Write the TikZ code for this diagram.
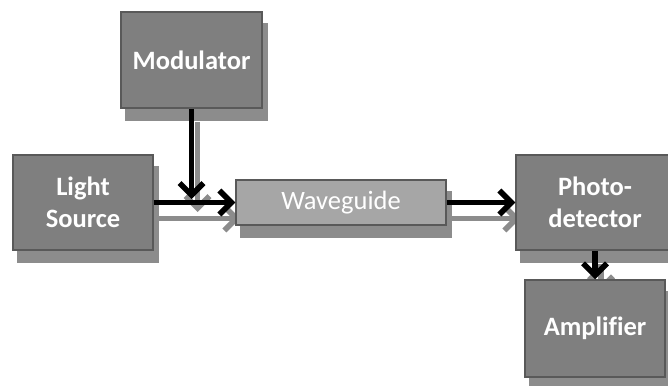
\documentclass[tikz,border=0pt]{standalone}
\usepackage{fontspec}
\setmainfont{Carlito}[Ligatures=NoCommon]
\usetikzlibrary{arrows.meta}
\pgfdeclarelayer{shadowlayer}
\pgfsetlayers{shadowlayer,main}
\definecolor{boxfill}{HTML}{7F7F7F}
\definecolor{boxline}{HTML}{595959}
\definecolor{wgfill}{HTML}{A6A6A6}
\definecolor{shadowc}{HTML}{8C8C8C}
\tikzset{
  blk/.style={draw=boxline, line width=1.5pt, fill=boxfill, text=white, font=\bfseries\fontsize{26.5}{32}\selectfont, align=center, inner sep=0pt},
  wgbox/.style={draw=boxline, line width=1.5pt, fill=wgfill, text=white, font=\fontsize{26.5}{32}\selectfont, inner sep=0pt},
  arr/.style={line width=5.5pt, black, -{Straight Barb[length=12pt,width=24pt]}},
  sarr/.style={line width=5.5pt, shadowc, -{Straight Barb[length=12pt,width=24pt]}},
}
\begin{document}
\begin{tikzpicture}[x=1pt,y=-1pt]
\useasboundingbox (0,0) rectangle (668,385);
% boxes
\node[blk, minimum width=141pt, minimum height=96pt] (mod) at (191.5,60) {Modulator};
\node[blk, minimum width=140pt, minimum height=95pt] (ls) at (83,202.5) {Light\\Source};
\node[wgbox, minimum width=210pt, minimum height=45pt] (wg) at (341,202.5) {Waveguide};
\node[blk, minimum width=158pt, minimum height=95pt] (pd) at (595,202.5) {Photo-\\detector};
\node[blk, minimum width=140pt, minimum height=97pt] (amp) at (595,328.5) {Amplifier};
\coordinate (j) at (191.5,199);
% shadows
\begin{pgfonlayer}{shadowlayer}
\fill[shadowc] ([shift={(5pt,-12pt)}]mod.north west) rectangle ([shift={(5pt,-12pt)}]mod.south east);
\fill[shadowc] ([shift={(5pt,-12pt)}]ls.north west) rectangle ([shift={(5pt,-12pt)}]ls.south east);
\fill[shadowc] ([shift={(5pt,-12pt)}]wg.north west) rectangle ([shift={(5pt,-12pt)}]wg.south east);
\fill[shadowc] ([shift={(5pt,-12pt)}]pd.north west) rectangle ([shift={(5pt,-12pt)}]pd.south east);
\fill[shadowc] ([shift={(5pt,-12pt)}]amp.north west) rectangle ([shift={(5pt,-12pt)}]amp.south east);
\draw[sarr] ([shift={(5pt,-16pt)}]ls.east) -- ([shift={(5pt,-16pt)}]wg.west);
\draw[sarr] ([shift={(6pt,-13pt)}]mod.south) -- ([shift={(6pt,-13pt)}]j);
\draw[sarr] ([shift={(5pt,-16pt)}]wg.east) -- ([shift={(5pt,-16pt)}]pd.west);
\draw[sarr] ([shift={(6pt,-13pt)}]pd.south) -- ([shift={(6pt,-13pt)}]amp.north);
\end{pgfonlayer}
% arrows
\draw[arr] (ls.east) -- (wg.west);
\draw[arr] (mod.south) -- (j);
\draw[arr] (wg.east) -- (pd.west);
\draw[arr] (pd.south) -- (amp.north);
\end{tikzpicture}
\end{document}
